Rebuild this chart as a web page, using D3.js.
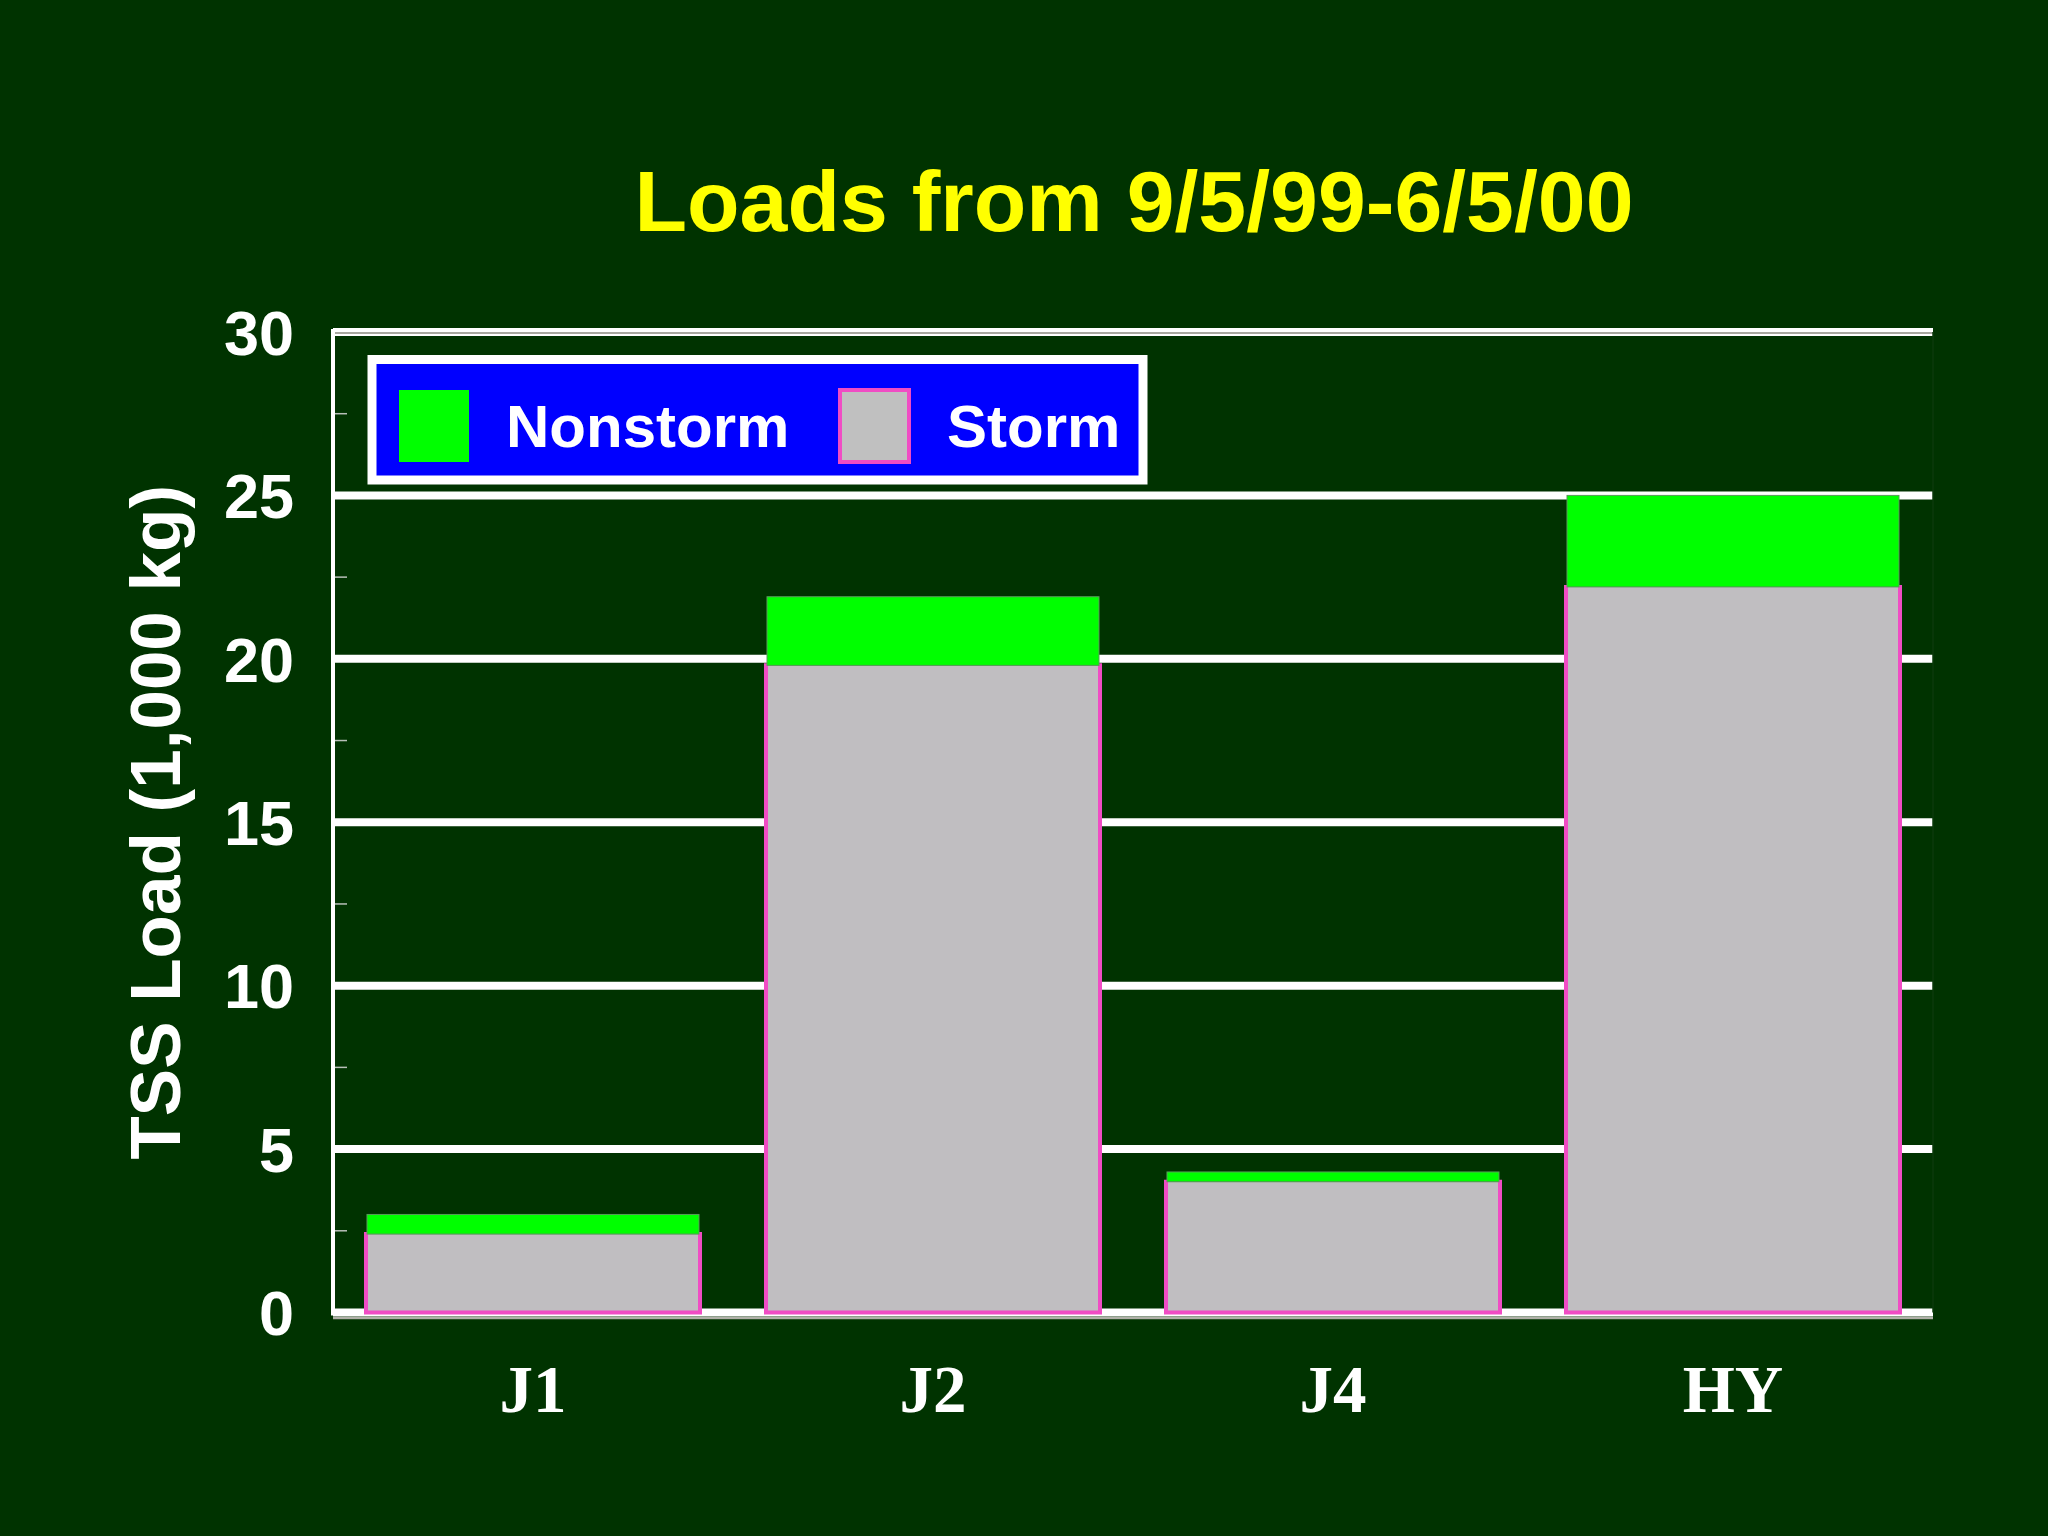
<!DOCTYPE html>
<html><head><meta charset="utf-8">
<script src="https://cdn.jsdelivr.net/npm/d3@7"></script>
<style>html,body{margin:0;padding:0;background:#003300;}svg{display:block;}</style>
</head><body>
<script>
const categories = ["J1", "J2", "J4", "HY"];
const stormValues = [2.4, 19.8, 4.0, 22.2];
const nonstormValues = [0.6, 2.1, 0.3, 2.8];
const yTicks = [0, 5, 10, 15, 20, 25, 30];
const yMinorTicks = [2.5, 7.5, 12.5, 17.5, 22.5, 27.5];
const seriesNames = ["Nonstorm", "Storm"];
const titleText = "Loads from 9/5/99-6/5/00";
const yTitleText = "TSS Load (1,000 kg)";

(function () {
const W = 2048, H = 1536;
const pLeft = 333, pRight = 1933, pTop = 332, pBottom = 1312.5;
const svg = d3.select("body").append("svg").attr("width", W).attr("height", H);
svg.append("rect").attr("width", W).attr("height", H).attr("fill", "#003300");

const x = d3.scaleBand().domain(categories).range([pLeft, pRight]).paddingInner(0.165).paddingOuter(0.0825);
const y = d3.scaleLinear().domain([0, 30]).range([pBottom, pTop]);

// gridlines
const grid = svg.append("g");
grid.selectAll("line.g").data(yTicks).join("line")
  .attr("x1", pLeft).attr("x2", pRight)
  .attr("y1", d => y(d)).attr("y2", d => y(d))
  .attr("stroke", "#ffffff").attr("stroke-width", 8);
grid.append("line").attr("x1", pLeft).attr("x2", pRight).attr("y1", y(30) + 1).attr("y2", y(30) + 1)
  .attr("stroke", "#a8a8a0").attr("stroke-width", 2);
grid.append("line").attr("x1", pLeft).attr("x2", pRight).attr("y1", y(0) + 5.5).attr("y2", y(0) + 5.5)
  .attr("stroke", "#b0b0a8").attr("stroke-width", 2.5);
grid.append("line").attr("x1", pLeft).attr("x2", pLeft).attr("y1", y(30) - 3).attr("y2", y(0) + 3)
  .attr("stroke", "#ffffff").attr("stroke-width", 4);
grid.append("line").attr("x1", pRight).attr("x2", pRight).attr("y1", y(30)).attr("y2", y(0))
  .attr("stroke", "#0b3a0b").attr("stroke-width", 1.5);
grid.selectAll("line.m").data(yMinorTicks).join("line")
  .attr("x1", pLeft + 2).attr("x2", pLeft + 14)
  .attr("y1", d => y(d)).attr("y2", d => y(d))
  .attr("stroke", "#b8c0b8").attr("stroke-width", 1.5);

// bars
const bars = svg.append("g");
categories.forEach((c, i) => {
  const x0 = x(c), bw = x.bandwidth();
  const s = stormValues[i], n = nonstormValues[i];
  bars.append("rect").attr("x", x0).attr("width", bw)
    .attr("y", y(s)).attr("height", y(0) - y(s))
    .attr("fill", "#c0bec1");
  bars.append("path")
    .attr("d", `M${x0},${y(s) - 2}L${x0},${y(0)}L${x0 + bw},${y(0)}L${x0 + bw},${y(s) - 2}`)
    .attr("fill", "none").attr("stroke", "#f04cc4").attr("stroke-width", 4);
  bars.append("rect").attr("x", x0 + 1).attr("width", bw - 2)
    .attr("y", y(s + n)).attr("height", y(s) - y(s + n))
    .attr("fill", "#00ff00").attr("stroke", "#5a9a5a").attr("stroke-width", 1);
});

// y tick labels
svg.append("g").selectAll("text").data(yTicks).join("text")
  .attr("x", 294).attr("y", d => y(d)).attr("dy", "0.36em")
  .attr("text-anchor", "end")
  .attr("font-family", "Liberation Sans, Arial, sans-serif").attr("font-weight", "bold")
  .attr("font-size", 63).attr("fill", "#ffffff")
  .text(d => d);

// x labels
svg.append("g").selectAll("text").data(categories).join("text")
  .attr("x", d => x(d) + x.bandwidth() / 2).attr("y", 1412)
  .attr("text-anchor", "middle")
  .attr("font-family", "Liberation Serif, Times New Roman, serif").attr("font-weight", "bold")
  .attr("font-size", 67).attr("fill", "#ffffff")
  .text(d => d);

// title
svg.append("text").attr("x", 1134).attr("y", 231).attr("text-anchor", "middle")
  .attr("font-family", "Liberation Sans, Arial, sans-serif").attr("font-weight", "bold")
  .attr("font-size", 86).attr("fill", "#ffff00").text(titleText);

// y title
svg.append("text").attr("transform", `translate(180,${(pTop + pBottom) / 2}) rotate(-90)`)
  .attr("text-anchor", "middle")
  .attr("font-family", "Liberation Sans, Arial, sans-serif").attr("font-weight", "bold")
  .attr("font-size", 71).attr("fill", "#ffffff").text(yTitleText);

// legend
const lg = svg.append("g");
lg.append("rect").attr("x", 372).attr("y", 359.5).attr("width", 771).attr("height", 120.5)
  .attr("fill", "#0000ff").attr("stroke", "#ffffff").attr("stroke-width", 9);
lg.append("rect").attr("x", 399).attr("y", 390).attr("width", 70).attr("height", 72).attr("fill", "#00ff00");
lg.append("rect").attr("x", 840).attr("y", 390).attr("width", 69).attr("height", 72)
  .attr("fill", "#c0c0c0").attr("stroke", "#f04cc4").attr("stroke-width", 4);
lg.selectAll("text").data(seriesNames).join("text")
  .attr("x", (d, i) => i === 0 ? 506 : 947).attr("y", 447)
  .attr("font-family", "Liberation Sans, Arial, sans-serif").attr("font-weight", "bold")
  .attr("font-size", 60).attr("fill", "#ffffff").text(d => d);
})();
</script>
</body></html>
